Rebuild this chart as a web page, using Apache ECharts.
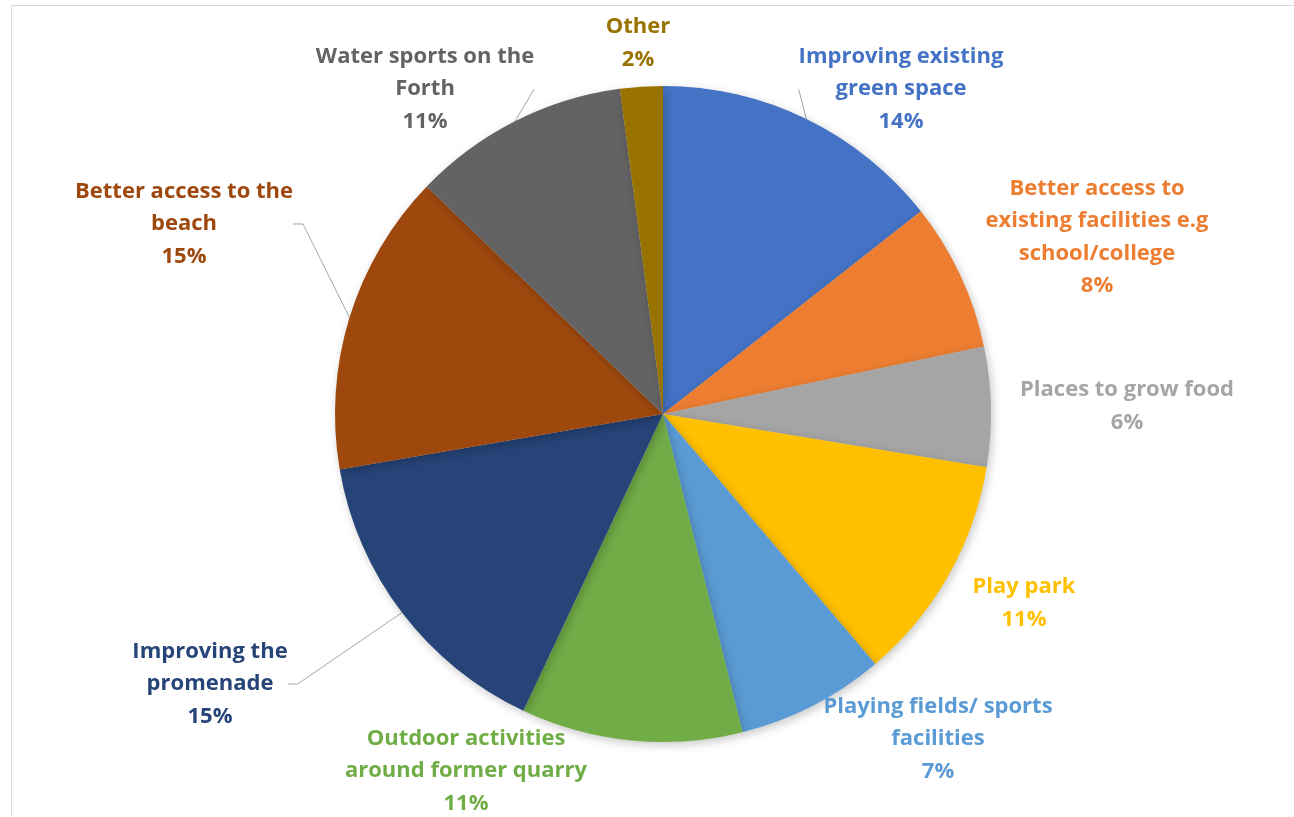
<!DOCTYPE html>
<html>
<head>
<meta charset="utf-8">
<script src="https://cdn.jsdelivr.net/npm/echarts@6/dist/echarts.min.js"></script>
<style>
  html, body { margin: 0; padding: 0; background: #ffffff; }
  #wrap { position: relative; width: 1294px; height: 817px; overflow: hidden; }
  #frame { position: absolute; left: 11px; top: 5px; width: 1400px; height: 900px; border: 1.5px solid #d9d9d9; box-sizing: border-box; }
  #chart { position: absolute; left: 0; top: 0; width: 1294px; height: 817px; }
</style>
</head>
<body>
<div id="wrap">
  <div id="frame"></div>
  <div id="chart"></div>
</div>
<script>
// ---- data ----
const categories = [
  'Improving existing\ngreen space',
  'Better access to\nexisting facilities e.g\nschool/college',
  'Places to grow food',
  'Play park',
  'Playing fields/ sports\nfacilities',
  'Outdoor activities\naround former quarry',
  'Improving the\npromenade',
  'Better access to the\nbeach',
  'Water sports on the\nForth',
  'Other'
];
// slice shares
const shares = [14.4, 7.3, 5.9, 11.2, 7.3, 10.9, 15.3, 14.9, 10.7, 2.1];
// percentages as printed on the labels
const printedPct = [14, 8, 6, 11, 7, 11, 15, 15, 11, 2];

// ---- styles / layout ----
const colors = ['#4472C4', '#ED7D31', '#A5A5A5', '#FFC000', '#5B9BD5', '#70AD47', '#264478', '#9E480E', '#636363', '#997300'];
const labelCenters = [[901, 89], [1097, 237], [1127, 406], [1024, 603], [938, 739], [466, 771], [210, 684], [184, 224], [425, 89], [638, 43]];
const withLeader = [true, false, false, false, false, false, true, true, true, false];

const chart = echarts.init(document.getElementById('chart'), null, { renderer: 'canvas' });

const data = categories.map((name, i) => ({
  name: name,
  value: shares[i],
  itemStyle: { color: colors[i] },
  label: { color: colors[i] },
  labelLine: { show: withLeader[i] }
}));

chart.setOption({
  backgroundColor: 'transparent',
  animation: false,
  series: [{
    type: 'pie',
    center: [663, 414],
    radius: 328,
    startAngle: 90,
    clockwise: true,
    avoidLabelOverlap: false,
    data: data,
    itemStyle: {
      borderWidth: 0,
      shadowBlur: 10,
      shadowColor: 'rgba(0,0,0,0.22)',
      shadowOffsetX: 2,
      shadowOffsetY: 3
    },
    label: {
      show: true,
      position: 'outside',
      formatter: (p) => p.name + '\n' + printedPct[p.dataIndex] + '%',
      fontFamily: 'Open Sans',
      fontWeight: 'bold',
      fontSize: 22,
      lineHeight: 32.5,
      align: 'center'
    },
    labelLine: {
      show: true,
      length: 10,
      length2: 10,
      lineStyle: { color: '#a6a6a6', width: 1 }
    },
    labelLayout: (params) => {
      const c = labelCenters[params.dataIndex];
      return { x: c[0], y: c[1], align: 'center', verticalAlign: 'middle' };
    },
    emphasis: { disabled: true }
  }]
});
</script>
</body>
</html>
